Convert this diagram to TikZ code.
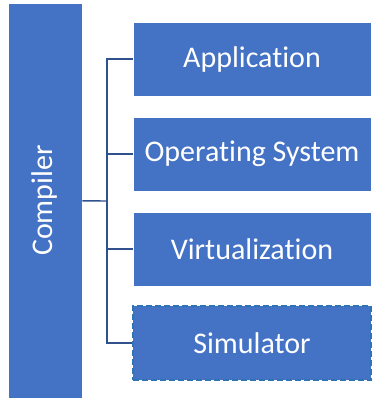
\documentclass[tikz,border=0pt]{standalone}
\usepackage{fontspec}
\setmainfont{Carlito}[Ligatures=NoCommon]
\usepackage{tikz}
\usetikzlibrary{shapes}
\definecolor{boxblue}{HTML}{4472C4}
\definecolor{lineblue}{HTML}{2F528F}
\definecolor{dashblue}{HTML}{2E75B6}
\tikzstyle{layer}=[rectangle,draw=white,fill=boxblue,line width=0.8pt,text=white,inner sep=0mm,minimum width=238pt,minimum height=74pt,font=\fontsize{30}{35}\selectfont]
\tikzstyle{tool}=[layer,minimum width=74pt,minimum height=395pt,rotate=90]
\tikzstyle{optional}=[layer,draw=dashblue,dash pattern=on 6pt off 3pt,line width=1.4pt]
\tikzstyle{link}=[draw=lineblue,line width=1.4pt]

\begin{document}
\begin{tikzpicture}[x=1pt,y=-1pt]
    \useasboundingbox (0,0) rectangle (372,400);
    \node[tool,minimum width=395pt,minimum height=74pt] at (45,200.5) (comp) {Compiler};
    \node[layer] at (252,59) (app) {Application};
    \node[layer] at (252,154) (os) {Operating System};
    \node[layer] at (252,249) (virt) {Virtualization};
    \node[optional] at (252,343) (sim) {Simulator};
    \coordinate (jn) at (107,201);
    \draw[link] (comp) -- (jn);
    \draw[link] (app) -| (jn) |- (sim);
    \draw[link] (jn |- os) -- (os);
    \draw[link] (jn |- virt) -- (virt);
  \end{tikzpicture}
\end{document}
